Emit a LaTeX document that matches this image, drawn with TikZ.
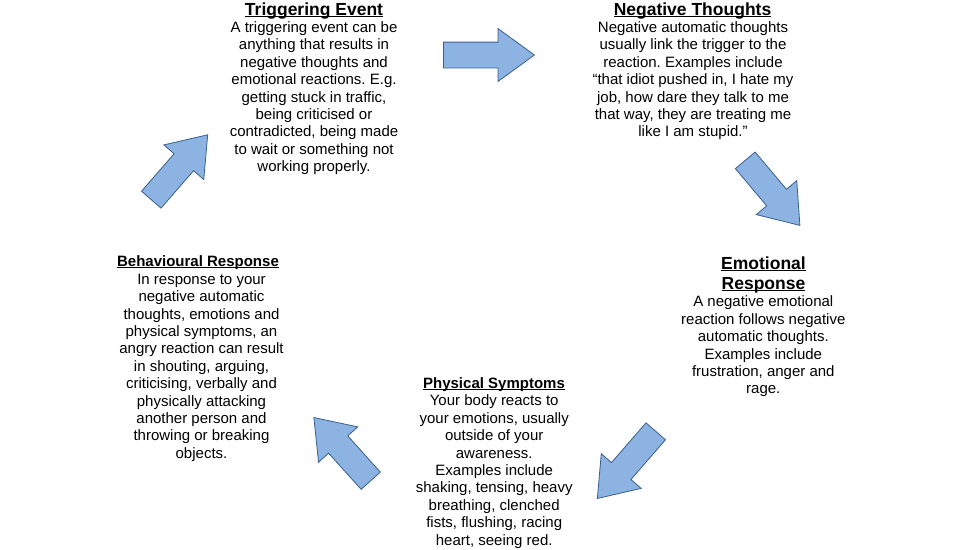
\documentclass[tikz,border=0pt]{standalone}
\usepackage{fontspec}
\setmainfont{Liberation Sans}
\usetikzlibrary{shapes.arrows}
\frenchspacing
\newcommand\myul[1]{\setbox0\hbox{#1}\rlap{\rule[-2pt]{\wd0}{1.1pt}}\box0}
\definecolor{arrfill}{HTML}{8DB3E2}
\definecolor{arrdraw}{HTML}{3A5F8E}
\tikzset{
  body/.style={font=\fontsize{15}{17.4}\selectfont, align=center, inner sep=0pt, anchor=north},
  bigtitle/.style={font=\fontsize{17.5}{20.1}\selectfont\bfseries, align=center, inner sep=0pt},
  smalltitle/.style={font=\fontsize{15}{17.4}\selectfont\bfseries, inner sep=0pt, anchor=base},
  blockarrow/.style={single arrow, fill=arrfill, draw=arrdraw, line width=0.8pt,
    inner xsep=0pt, inner ysep=12.5pt, single arrow head extend=13.5pt,
    single arrow tip angle=72, minimum width=0pt, anchor=tail}
}
\newcommand\fl{\rule{0pt}{12pt}}
\begin{document}
\begin{tikzpicture}[x=1pt,y=-1pt]
\useasboundingbox (0,0) rectangle (960,549);
% Triggering Event
\node[bigtitle, anchor=base] (tet) at (314,15) {\myul{Triggering Event}};
\node[body] (teb) at (314,20.3) {\fl A triggering event can be\\anything that results in\\negative thoughts and\\emotional reactions. E.g.\\getting stuck in traffic,\\being criticised or\\contradicted, being made\\to wait or something not\\working properly.};
% Negative Thoughts
\node[bigtitle, anchor=base] (ntt) at (692.5,15) {\myul{Negative Thoughts}};
\node[body] (ntb) at (693,20.3) {\fl Negative automatic thoughts\\usually link the trigger to the\\reaction. Examples include\\“that idiot pushed in, I hate my\\job, how dare they talk to me\\that way, they are treating me\\like I am stupid.”};
% Emotional Response
\node[bigtitle, anchor=base] (ert1) at (763.5,269.3) {\myul{Emotional}};
\node[bigtitle, anchor=base] (ert2) at (763.5,289) {\myul{Response}};
\node[body] (erb) at (763.3,294.7) {\fl A negative emotional\\reaction follows negative\\automatic thoughts.\\Examples include\\frustration, anger and\\rage.};
% Physical Symptoms
\node[smalltitle] (pst) at (494,388.3) {\myul{Physical Symptoms}};
\node[body] (psb) at (494.2,393.7) {\fl Your body reacts to\\your emotions, usually\\outside of your\\awareness.\\Examples include\\shaking, tensing, heavy\\breathing, clenched\\fists, flushing, racing\\heart, seeing red.};
% Behavioural Response
\node[smalltitle] (brt) at (198,266) {\myul{Behavioural Response}};
\node[body] (brb) at (201.5,272) {\fl In response to your\\negative automatic\\thoughts, emotions and\\physical symptoms, an\\angry reaction can result\\in shouting, arguing,\\criticising, verbally and\\physically attacking\\another person and\\throwing or breaking\\objects.};
% Arrows
\node[blockarrow, minimum height=91pt, rotate=0] (a1) at (443,55) {};
\node[blockarrow, minimum height=85pt, rotate=-50] (a2) at (745,160) {};
\node[blockarrow, minimum height=89pt, rotate=229] (a3) at (656,431) {};
\node[blockarrow, minimum height=85pt, rotate=132] (a4) at (371,481) {};
\node[blockarrow, minimum height=86pt, rotate=49] (a5) at (151,200) {};
\end{tikzpicture}
\end{document}
